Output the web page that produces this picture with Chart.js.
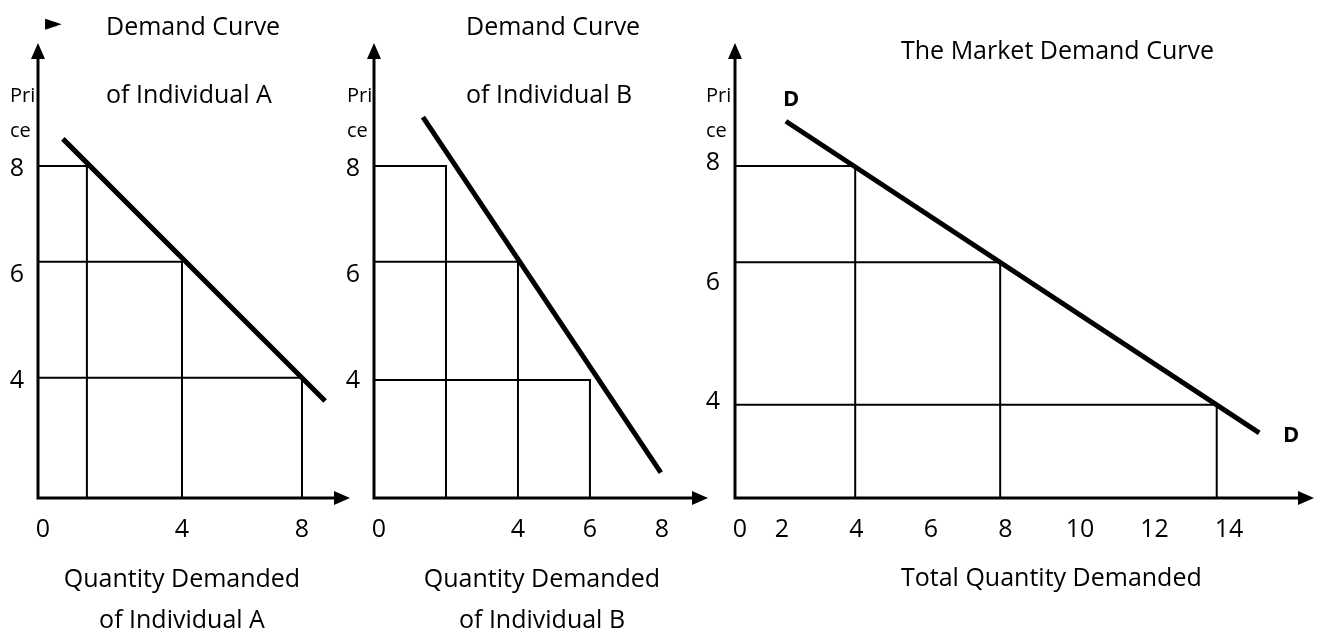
<!DOCTYPE html>
<html>
<head>
<meta charset="utf-8">
<script src="https://cdn.jsdelivr.net/npm/chart.js@4.4.1/dist/chart.umd.min.js"></script>
<style>
  html, body { margin: 0; padding: 0; background: #fff; }
  #wrap { position: relative; width: 1320px; height: 632px; }
  #wrap canvas { position: absolute; left: 0; top: 0; }
</style>
</head>
<body>
<div id="wrap">
  <canvas id="chartA" width="1320" height="632"></canvas>
  <canvas id="chartB" width="1320" height="632"></canvas>
  <canvas id="chartC" width="1320" height="632"></canvas>
</div>
<script>
// price levels marked on every panel
const priceTicks = [4, 6, 8];

// individual A
const qTicksA = [4, 8];
const demandA = [{ x: 0.03, y: 8.45 }, { x: 8.77, y: 3.5 }];
const pointsA = [{ x: 0.83, y: 7.94 }, { x: 4.0, y: 6.13 }, { x: 8.0, y: 3.94 }];

// individual B
const qTicksB = [4, 6, 8];
const demandB = [{ x: 1.36, y: 8.86 }, { x: 7.97, y: 2.15 }];
const pointsB = [{ x: 2.0, y: 7.94 }, { x: 4.0, y: 6.13 }, { x: 6.0, y: 3.9 }];

// market (sum of A and B)
const qTicksC = [2, 4, 6, 8, 10, 12, 14];
const demandC = [{ x: 2.11, y: 8.62 }, { x: 14.81, y: 3.4 }];
const pointsC = [{ x: 3.97, y: 7.87 }, { x: 7.86, y: 6.26 }, { x: 13.67, y: 3.87 }];

const FONT = "'Open Sans', sans-serif";

// axes with arrow heads, drawn along the chart area edges
const arrowAxes = {
  id: "arrowAxes",
  afterDraw(chart) {
    const { ctx, chartArea: a } = chart;
    ctx.save();
    ctx.strokeStyle = "#000";
    ctx.fillStyle = "#000";
    ctx.lineWidth = 3;
    ctx.beginPath();
    ctx.moveTo(a.left, a.bottom + 1.5);
    ctx.lineTo(a.left, a.top + 12);
    ctx.moveTo(a.left - 1.5, a.bottom);
    ctx.lineTo(a.right - 12, a.bottom);
    ctx.stroke();
    ctx.beginPath();
    ctx.moveTo(a.left, a.top);
    ctx.lineTo(a.left - 7, a.top + 16);
    ctx.lineTo(a.left + 7, a.top + 16);
    ctx.closePath();
    ctx.moveTo(a.right, a.bottom);
    ctx.lineTo(a.right - 16, a.bottom - 7);
    ctx.lineTo(a.right - 16, a.bottom + 7);
    ctx.closePath();
    ctx.fill();
    // origin label
    ctx.font = "25px " + FONT;
    ctx.textAlign = "center";
    ctx.textBaseline = "middle";
    ctx.fillText("0", a.left + 5, a.bottom + 32);
    ctx.restore();
  },
};

function notesPlugin(items) {
  return {
    id: "notes",
    afterDraw(chart) {
      const ctx = chart.ctx;
      ctx.save();
      ctx.fillStyle = "#000";
      ctx.textBaseline = "alphabetic";
      items.forEach((t) => {
        ctx.font = (t.bold ? "bold " : "") + t.size + "px " + (t.family || FONT);
        ctx.textAlign = t.align || "left";
        ctx.fillText(t.text, t.x, t.y);
      });
      ctx.restore();
    },
  };
}

function makePanel(id, cfg) {
  const axisW = 30;
  const axisH = 40;
  const datasets = [
    {
      data: cfg.demand,
      showLine: true,
      borderColor: "#000",
      borderWidth: 5,
      borderCapStyle: "butt",
      pointRadius: 0,
    },
  ].concat(
    cfg.points.map((p) => ({
      data: [
        { x: cfg.xRange[0], y: p.y },
        { x: p.x, y: p.y },
        { x: p.x, y: cfg.yRange[0] },
      ],
      showLine: true,
      borderColor: "#000",
      borderWidth: 2,
      borderJoinStyle: "miter",
      pointRadius: 0,
    }))
  );

  new Chart(document.getElementById(id), {
    type: "scatter",
    data: { datasets: datasets },
    options: {
      responsive: false,
      animation: false,
      devicePixelRatio: 1,
      layout: {
        padding: {
          left: cfg.left - axisW,
          top: 43,
          right: 1320 - cfg.right,
          bottom: 632 - 498 - axisH,
        },
      },
      plugins: { legend: { display: false }, tooltip: { enabled: false } },
      scales: {
        x: {
          type: "linear",
          min: cfg.xRange[0],
          max: cfg.xRange[1],
          grid: { display: false, drawTicks: false },
          border: { display: false },
          afterFit: (s) => { s.height = axisH; },
          afterBuildTicks: (s) => { s.ticks = cfg.qTicks.map((v) => ({ value: v })); },
          ticks: {
            autoSkip: false,
            maxRotation: 0,
            padding: 17,
            color: "#000",
            font: { family: FONT, size: 25 },
          },
        },
        y: {
          type: "linear",
          min: cfg.yRange[0],
          max: cfg.yRange[1],
          grid: { display: false, drawTicks: false },
          border: { display: false },
          afterFit: (s) => { s.width = axisW; },
          afterBuildTicks: (s) => { s.ticks = priceTicks.map((v) => ({ value: v })); },
          ticks: {
            autoSkip: false,
            padding: cfg.tickPad,
            labelOffset: cfg.labelOffset,
            color: "#000",
            font: { family: FONT, size: 25 },
          },
        },
      },
    },
    plugins: [arrowAxes, notesPlugin(cfg.notes)],
  });
}

makePanel("chartA", {
  left: 38, right: 350, tickPad: 14,
  xRange: [-0.8, 9.6], yRange: [1.67, 10.26], labelOffset: 6,
  qTicks: qTicksA, demand: demandA, points: pointsA,
  notes: [
    { text: "\u25BA", x: 45, y: 30, size: 22, family: "'DejaVu Sans'" },
    { text: "Demand Curve", x: 106, y: 35, size: 25 },
    { text: "of Individual A", x: 106, y: 103, size: 25 },
    { text: "Pri", x: 10, y: 102, size: 20 },
    { text: "ce", x: 10, y: 137, size: 20 },
    { text: "Quantity Demanded", x: 182, y: 587, size: 25, align: "center" },
    { text: "of Individual A", x: 182, y: 628, size: 25, align: "center" },
  ],
});

makePanel("chartB", {
  left: 374, right: 708, tickPad: 14,
  xRange: [0, 9.28], yRange: [1.67, 10.26], labelOffset: 6,
  qTicks: qTicksB, demand: demandB, points: pointsB,
  notes: [
    { text: "Demand Curve", x: 466, y: 35, size: 25 },
    { text: "of Individual B", x: 466, y: 103, size: 25 },
    { text: "Pri", x: 347, y: 102, size: 20 },
    { text: "ce", x: 347, y: 137, size: 20 },
    { text: "Quantity Demanded", x: 542, y: 587, size: 25, align: "center" },
    { text: "of Individual B", x: 542, y: 628, size: 25, align: "center" },
  ],
});

makePanel("chartC", {
  left: 735, right: 1314, tickPad: 15,
  xRange: [0.745, 16.28], yRange: [2.31, 9.93], labelOffset: 5,
  qTicks: qTicksC, demand: demandC, points: pointsC,
  notes: [
    { text: "The Market Demand Curve", x: 901, y: 59, size: 25 },
    { text: "Pri", x: 706, y: 102, size: 20 },
    { text: "ce", x: 706, y: 137, size: 20 },
    { text: "D", x: 783, y: 106, size: 22, bold: true },
    { text: "D", x: 1283, y: 442, size: 22, bold: true },
    { text: "Total Quantity Demanded", x: 901, y: 586, size: 25 },
  ],
});
</script>
</body>
</html>
